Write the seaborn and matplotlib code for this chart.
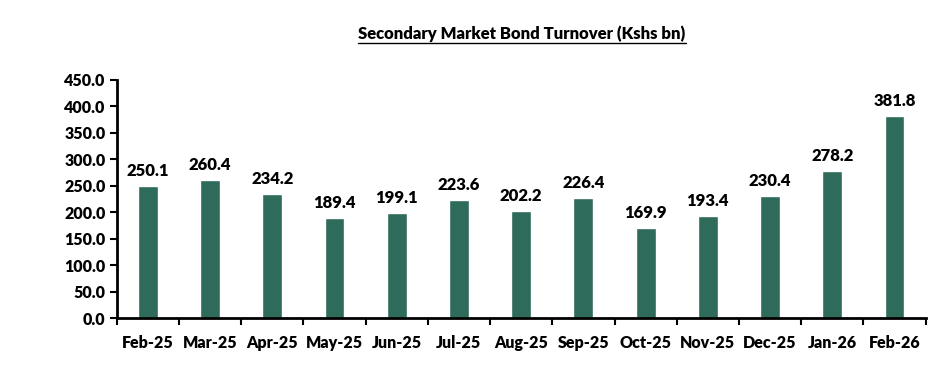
import matplotlib
matplotlib.use("Agg")
import matplotlib.pyplot as plt
import seaborn as sns
import pandas as pd
from matplotlib.lines import Line2D

months = ["Feb-25", "Mar-25", "Apr-25", "May-25", "Jun-25", "Jul-25", "Aug-25",
          "Sep-25", "Oct-25", "Nov-25", "Dec-25", "Jan-26", "Feb-26"]
turnover = [250.1, 260.4, 234.2, 189.4, 199.1, 223.6, 202.2, 226.4, 169.9, 193.4, 230.4, 278.2, 381.8]
yticks = [0, 50, 100, 150, 200, 250, 300, 350, 400, 450]
title = "Secondary Market Bond Turnover (Kshs bn)"

sns.set_theme(style="white")
plt.rcParams['font.family'] = ['Lato', 'DejaVu Sans']

df = pd.DataFrame({"month": months, "value": turnover})

fig = plt.figure(figsize=(9.34, 3.72), dpi=100)
ax = fig.add_axes([0.125, 0.145, 0.866, 0.64])
sns.barplot(data=df, x="month", y="value", color="#2E6B5B", width=0.32,
            saturation=1, ax=ax)

ax.set_ylim(0, 450)
ax.set_xlim(-0.5, len(months) - 0.5)
ax.set_yticks(yticks)
ax.set_yticklabels([f"{v:.1f}" for v in yticks], fontsize=11.5, fontweight='heavy', color='black')
ax.set_xlabel("")
ax.set_ylabel("")
for lbl in ax.get_xticklabels():
    lbl.set_fontsize(11.5)
    lbl.set_fontweight('heavy')
    lbl.set_color('black')

ax.tick_params(axis='x', which='major', length=0, pad=12)
ax.set_xticks([i - 0.5 for i in range(len(months) + 1)], minor=True)
ax.tick_params(axis='x', which='minor', length=5, width=1.5, color='black', direction='out', bottom=True)
ax.tick_params(axis='y', length=5, width=1.5, color='black', direction='out', left=True, pad=3)

for s in ['top', 'right']:
    ax.spines[s].set_visible(False)
for s in ['left', 'bottom']:
    ax.spines[s].set_color('black')
    ax.spines[s].set_linewidth(2)

for i, v in enumerate(turnover):
    ax.annotate(f"{v:.1f}", (i, v), xytext=(0, 5), textcoords='offset points',
                ha='center', va='bottom', fontsize=12, fontweight='heavy', color='black')

t = fig.text(0.559, 0.91, title, ha='center', va='center', fontsize=12,
             fontweight='heavy', color='black')
fig.canvas.draw()
bb = t.get_window_extent().transformed(fig.transFigure.inverted())
fig.add_artist(Line2D([bb.x0, bb.x1], [bb.y0 - 0.004, bb.y0 - 0.004],
                      transform=fig.transFigure, color='black', lw=1))

fig.savefig("out.png", dpi=100)
